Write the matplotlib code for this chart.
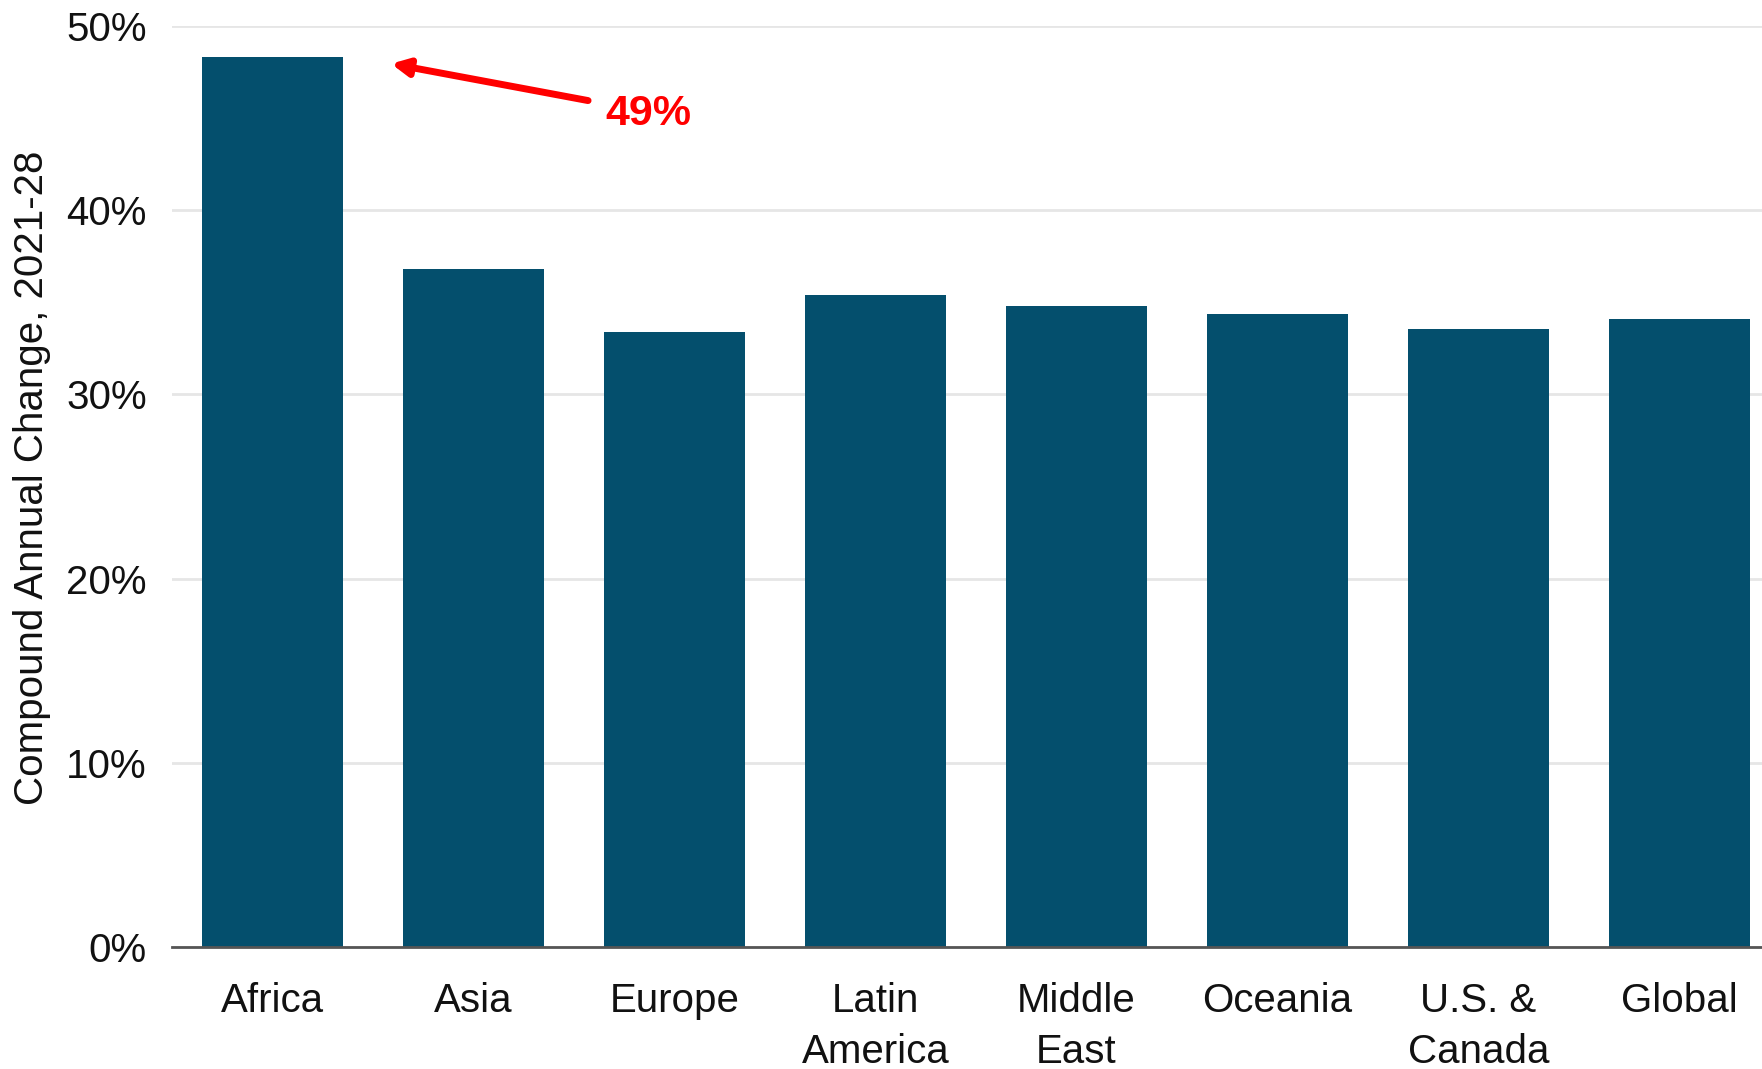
import matplotlib
matplotlib.use("Agg")
import matplotlib.pyplot as plt
from matplotlib.ticker import FuncFormatter

regions = ["Africa", "Asia", "Europe", "Latin\nAmerica", "Middle\nEast",
           "Oceania", "U.S. &\nCanada", "Global"]
cagr = [48.3, 36.8, 33.4, 35.4, 34.8, 34.35, 33.55, 34.1]
y_ticks = [0, 10, 20, 30, 40, 50]
callout = "49%"

plt.rcParams['font.family'] = ['Liberation Sans', 'DejaVu Sans']

fig = plt.figure(figsize=(17.62, 10.69), dpi=100)
ax = fig.add_axes([0.0976, 0.1141, 0.9024, 0.8616])

x = range(len(regions))
ax.bar(x, cagr, width=0.70, color='#044F6D', zorder=3)

ax.set_xlim(-0.5, 7.41)
ax.set_ylim(0, 50)
ax.set_yticks(y_ticks)
ax.yaxis.set_major_formatter(FuncFormatter(lambda v, p: f"{v:.0f}%"))
ax.set_xticks(list(x))
ax.set_xticklabels(regions, linespacing=1.45)

ax.grid(axis='y', color='#e6e6e6', linewidth=2, zorder=0)
for s in ['top', 'right', 'left']:
    ax.spines[s].set_visible(False)
ax.spines['bottom'].set_color('#555555')
ax.spines['bottom'].set_linewidth(2)
ax.spines['bottom'].set_zorder(4)
ax.tick_params(axis='both', length=0, labelsize=29, colors='#111111')
ax.tick_params(axis='y', pad=18)
ax.tick_params(axis='x', pad=25)
for lbl in ax.get_xticklabels():
    lbl.set_verticalalignment('top')

ax.set_ylabel("Compound Annual Change, 2021-28", fontsize=29, color='#111111')
ax.yaxis.set_label_coords(-0.076, 0.509)

# red call-out arrow pointing at Africa bar
ax.annotate("", xy=(0.59, cagr[0] - 0.35), xytext=(1.57, cagr[0] - 2.35),
            arrowprops=dict(arrowstyle='-|>,head_length=1.0,head_width=0.5',
                            color='#ff0000', lw=5, shrinkA=0, shrinkB=0),
            zorder=5)
ax.text(1.87, cagr[0] - 3.1, callout, color='#ff0000', fontsize=31,
        fontweight='bold', ha='center', va='center', zorder=5)

fig.savefig("out.png", dpi=100)
